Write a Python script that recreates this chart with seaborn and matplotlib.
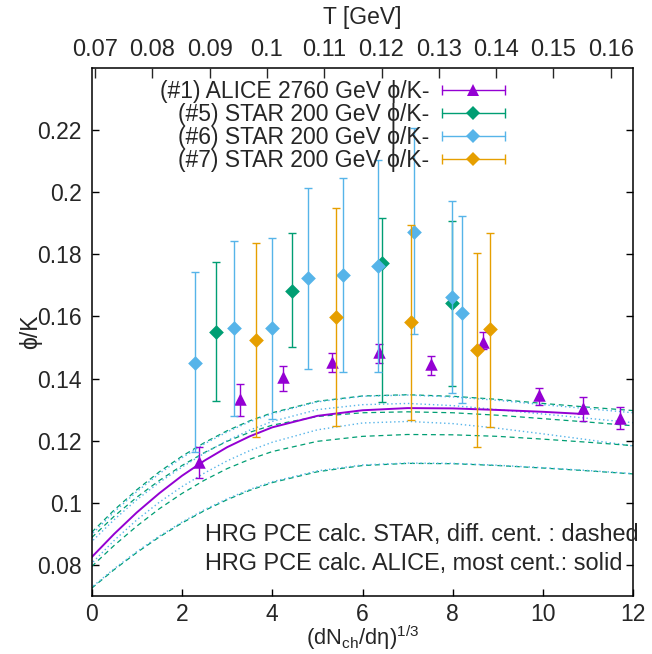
import numpy as np
import pandas as pd
import matplotlib
matplotlib.use("Agg")
import matplotlib.pyplot as plt
from matplotlib.lines import Line2D
from matplotlib.legend_handler import HandlerBase
import seaborn as sns

# ---------------- data ----------------
ALICE_X = [2.38, 3.29, 4.23, 5.32, 6.37, 7.52, 8.66, 9.90, 10.89, 11.70]
ALICE_Y = [0.1132, 0.1333, 0.1406, 0.1454, 0.1486, 0.1447, 0.1519, 0.1347, 0.1306, 0.1272]
ALICE_LO = [0.1081, 0.1280, 0.1361, 0.1420, 0.1450, 0.1411, 0.1494, 0.1315, 0.1262, 0.1237]
ALICE_HI = [0.1179, 0.1381, 0.1441, 0.1481, 0.1510, 0.1473, 0.1551, 0.1371, 0.1340, 0.1307]

STAR5_X = [2.75, 4.43, 6.43, 7.98]
STAR5_Y = [0.1551, 0.1683, 0.1771, 0.1643]
STAR5_LO = [0.1328, 0.1503, 0.1324, 0.1376]
STAR5_HI = [0.1776, 0.1869, 0.1916, 0.1908]

STAR6_X = [2.29, 3.15, 4.00, 4.80, 5.56, 6.35, 7.13, 7.98, 8.20]
STAR6_Y = [0.1451, 0.1562, 0.1562, 0.1723, 0.1734, 0.1762, 0.1873, 0.1662, 0.1612]
STAR6_LO = [0.1164, 0.1280, 0.1270, 0.1431, 0.1420, 0.1420, 0.1542, 0.1353, 0.1321]
STAR6_HI = [0.1742, 0.1844, 0.1853, 0.2013, 0.2045, 0.2104, 0.2206, 0.1973, 0.1923]

STAR7_X = [3.63, 5.41, 7.07, 8.53, 8.83]
STAR7_Y = [0.1524, 0.1599, 0.1581, 0.1492, 0.1559]
STAR7_LO = [0.1211, 0.1248, 0.1267, 0.1181, 0.1245]
STAR7_HI = [0.1835, 0.1948, 0.1894, 0.1803, 0.1869]

# theory curves (HRG PCE)
THEORY_X = [0, 0.5, 1, 1.5, 2, 2.5, 3, 3.5, 4, 5, 6, 7, 8, 9, 10, 11, 12]
G1 = [0.0905, 0.0977, 0.1042, 0.1100, 0.1150, 0.1194, 0.1232, 0.1264, 0.1290,
      0.1327, 0.1344, 0.1348, 0.1343, 0.1333, 0.1320, 0.1308, 0.1297]
B1 = [0.0898, 0.0971, 0.1036, 0.1094, 0.1145, 0.1190, 0.1228, 0.1261, 0.1287,
      0.1325, 0.1343, 0.1347, 0.1341, 0.1330, 0.1316, 0.1303, 0.1290]
G2 = [0.0888, 0.0957, 0.1018, 0.1072, 0.1120, 0.1162, 0.1198, 0.1227, 0.1250,
      0.1278, 0.1290, 0.1293, 0.1290, 0.1282, 0.1271, 0.1260, 0.1248]
B2 = [0.0875, 0.0946, 0.1010, 0.1066, 0.1115, 0.1160, 0.1200, 0.1234, 0.1262,
      0.1300, 0.1316, 0.1320, 0.1313, 0.1300, 0.1286, 0.1272, 0.1258]
B3 = [0.0805, 0.0879, 0.0945, 0.1002, 0.1052, 0.1096, 0.1135, 0.1168, 0.1195,
      0.1235, 0.1257, 0.1262, 0.1255, 0.1240, 0.1222, 0.1203, 0.1183]
G3 = [0.0795, 0.0863, 0.0925, 0.0981, 0.1030, 0.1073, 0.1110, 0.1140, 0.1165,
      0.1198, 0.1214, 0.1220, 0.1219, 0.1214, 0.1205, 0.1195, 0.1184]
G4 = [0.0725, 0.0785, 0.0840, 0.0890, 0.0935, 0.0975, 0.1010, 0.1040, 0.1065,
      0.1100, 0.1120, 0.1127, 0.1126, 0.1120, 0.1112, 0.1103, 0.1093]
B4 = [0.0728, 0.0788, 0.0843, 0.0893, 0.0938, 0.0978, 0.1013, 0.1043, 0.1068,
      0.1103, 0.1122, 0.1128, 0.1127, 0.1121, 0.1113, 0.1104, 0.1094]

ALICE_CURVE_X = [0, 0.5, 1, 1.5, 2, 2.5, 3, 3.5, 4, 5, 6, 7, 8, 9, 10, 10.9]
ALICE_CURVE_Y = [0.0825, 0.0900, 0.0969, 0.1031, 0.1087, 0.1136, 0.1179, 0.1214,
                 0.1243, 0.1280, 0.1298, 0.1305, 0.1304, 0.1299, 0.1293, 0.1286]

T_TICKS = [0.07, 0.08, 0.09, 0.10, 0.11, 0.12, 0.13, 0.14, 0.15, 0.16]
T_LABELS = ["0.07", "0.08", "0.09", "0.1", "0.11", "0.12", "0.13", "0.14", "0.15", "0.16"]
Y_TICKS = [0.08, 0.10, 0.12, 0.14, 0.16, 0.18, 0.20, 0.22]
Y_LABELS = ["0.08", "0.1", "0.12", "0.14", "0.16", "0.18", "0.2", "0.22"]
X_TICKS = [0, 2, 4, 6, 8, 10, 12]

LEGEND_LABELS = ["(#1) ALICE 2760 GeV \u03d5/K-", "(#5) STAR 200 GeV \u03d5/K-",
                 "(#6) STAR 200 GeV \u03d5/K-", "(#7) STAR 200 GeV \u03d5/K-"]

# ---------------- style ----------------
PURPLE = "#9400D3"
GREEN = "#009E73"
BLUE = "#56B4E9"
ORANGE = "#E69F00"

sns.set_style("white")
plt.rcParams["font.family"] = ["Liberation Sans", "DejaVu Sans"]
plt.rcParams["mathtext.fontset"] = "custom"
plt.rcParams["mathtext.rm"] = "Liberation Sans"
plt.rcParams["mathtext.it"] = "Liberation Sans:italic"
FS = 16.5

fig = plt.figure(figsize=(6.52, 6.54), dpi=100)
ax = fig.add_axes([0.1406, 0.0887, 0.8308, 0.8073])

# theory curves
rows = []
for name, ys in [("G1", G1), ("B1", B1), ("G2", G2), ("B2", B2),
                 ("B3", B3), ("G3", G3), ("G4", G4), ("B4", B4)]:
    for x, y in zip(THEORY_X, ys):
        rows.append({"x": x, "y": y, "curve": name})
theory = pd.DataFrame(rows)
for name in ["G1", "B1", "G2", "B2", "B3", "G3", "G4", "B4"]:
    sub = theory[theory["curve"] == name]
    if name.startswith("G"):
        sns.lineplot(data=sub, x="x", y="y", ax=ax, color=GREEN, lw=0.9,
                     linestyle=(0, (4, 3)), sort=False, estimator=None)
    else:
        sns.lineplot(data=sub, x="x", y="y", ax=ax, color=BLUE, lw=1.0,
                     linestyle=(1.5, (1, 2)), sort=False, estimator=None)

alice_curve = pd.DataFrame({"x": ALICE_CURVE_X, "y": ALICE_CURVE_Y})
sns.lineplot(data=alice_curve, x="x", y="y", ax=ax, color=PURPLE, lw=1.4,
             sort=False, estimator=None)

# data points with error bars
sets = [
    (ALICE_X, ALICE_Y, ALICE_LO, ALICE_HI, PURPLE, "^", 9),
    (STAR5_X, STAR5_Y, STAR5_LO, STAR5_HI, GREEN, "D", 7.5),
    (STAR6_X, STAR6_Y, STAR6_LO, STAR6_HI, BLUE, "D", 7.5),
    (STAR7_X, STAR7_Y, STAR7_LO, STAR7_HI, ORANGE, "D", 7.5),
]
z = 3
for xs, ys, lo, hi, c, m, ms in sets:
    ys_a = np.array(ys)
    err = [ys_a - np.array(lo), np.array(hi) - ys_a]
    ax.errorbar(xs, ys, yerr=err, fmt="none", ecolor=c, elinewidth=1.0,
                capsize=3.2, capthick=1.0, zorder=z)
    df = pd.DataFrame({"x": xs, "y": ys})
    sns.scatterplot(data=df, x="x", y="y", ax=ax, color=c, marker=m,
                    s=ms ** 2, linewidth=0, zorder=z + 0.5)
    z += 1


# legend with horizontal error-bar keys (gnuplot style)
class ErrKey:
    def __init__(self, color, marker, ms):
        self.color, self.marker, self.ms = color, marker, ms


class ErrKeyHandler(HandlerBase):
    def create_artists(self, legend, orig, xdescent, ydescent, width, height,
                       fontsize, trans):
        y = height / 2 - ydescent
        x0, x1 = -xdescent, width - xdescent
        line = Line2D([x0, x1], [y, y], color=orig.color, lw=1.0, transform=trans)
        caps = Line2D([x0, x1], [y, y], ls="none", marker="|", ms=7,
                      mew=1.0, color=orig.color, transform=trans)
        mk = Line2D([(x0 + x1) / 2], [y], ls="none", marker=orig.marker,
                    ms=orig.ms, mew=0, color=orig.color, transform=trans)
        return [line, caps, mk]


handles = [ErrKey(c, m, ms) for (_, _, _, _, c, m, ms) in sets]
leg = ax.legend(handles, LEGEND_LABELS, handler_map={ErrKey: ErrKeyHandler()},
                loc="upper right", bbox_to_anchor=(0.763, 0.977),
                frameon=False, markerfirst=False, fontsize=FS,
                handlelength=2.75, handletextpad=0.55, labelspacing=0.0,
                borderpad=0, borderaxespad=0)
leg._legend_box.align = "right"

# annotations
ax.text(2.51, 0.0899, "HRG PCE calc. STAR, diff. cent. : dashed",
        fontsize=16.9, va="center", ha="left")
ax.text(2.51, 0.0805, "HRG PCE calc. ALICE, most cent.: solid",
        fontsize=16.9, va="center", ha="left")

# axes
ax.set_xlim(0, 12)
ax.set_ylim(0.07, 0.24)
ax.set_xticks(X_TICKS)
ax.set_xticklabels([str(v) for v in X_TICKS])
ax.set_yticks(Y_TICKS)
ax.set_yticklabels(Y_LABELS)
ax.tick_params(axis="both", direction="in", length=5, width=1.0,
               labelsize=FS, color="black")
ax.tick_params(axis="x", pad=5, top=False, bottom=True)
ax.tick_params(axis="y", pad=7, left=True, right=True)
for sp in ax.spines.values():
    sp.set_linewidth(1.1)
    sp.set_color("black")
ax.set_xlabel("(dN$_{\\mathrm{ch}}$/d\u03b7)$^{1/3}$", fontsize=15.8, labelpad=-1.5)
ax.set_ylabel("\u03d5/K", fontsize=FS)
ax.yaxis.set_label_coords(-0.092, 0.5)

# top T axis
T_AXIS_X0 = 0.073
T_AXIS_STEP = 1.2696
ax2 = ax.twiny()
ax2.set_xlim(0, 12)
ax2.set_xticks([T_AXIS_X0 + (t - T_TICKS[0]) / 0.01 * T_AXIS_STEP for t in T_TICKS])
ax2.set_xticklabels(T_LABELS)
ax2.tick_params(axis="x", direction="in", length=7, width=1.0, labelsize=17, pad=5)
for sp in ax2.spines.values():
    sp.set_visible(False)
ax2.set_xlabel("T [GeV]", fontsize=FS, labelpad=11)

fig.savefig("out.png", dpi=100)
